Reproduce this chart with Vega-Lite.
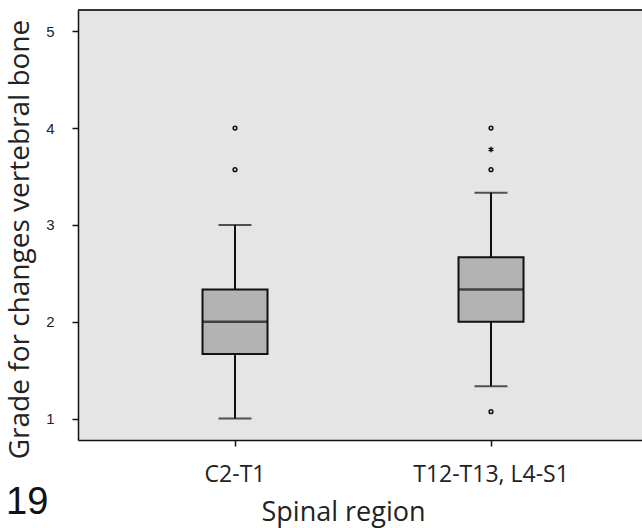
{
  "$schema": "https://vega.github.io/schema/vega-lite/v6.json",
  "width": 564,
  "height": 430,
  "autosize": {"type": "none"},
  "padding": {"left": 78, "top": 10, "right": 0, "bottom": 88},
  "background": "white",
  "config": {"view": {"fill": "#e5e5e5", "stroke": null}},
  "title": {
    "text": "19",
    "orient": "bottom",
    "anchor": "start",
    "frame": "bounds",
    "font": "Liberation Sans",
    "fontSize": 38,
    "fontWeight": "normal",
    "color": "#111",
    "offset": -41
  },
  "datasets": {
    "boxes": [
      {"region": "C2-T1", "lower": 1.0, "q1": 1.667, "median": 2.0, "q3": 2.333, "upper": 3.0},
      {"region": "T12-T13, L4-S1", "lower": 1.333, "q1": 2.0, "median": 2.333, "q3": 2.667, "upper": 3.333}
    ],
    "outliers": [
      {"region": "C2-T1", "value": 3.57, "kind": "outlier"},
      {"region": "C2-T1", "value": 4.0, "kind": "outlier"},
      {"region": "T12-T13, L4-S1", "value": 1.07, "kind": "outlier"},
      {"region": "T12-T13, L4-S1", "value": 3.57, "kind": "outlier"},
      {"region": "T12-T13, L4-S1", "value": 4.0, "kind": "outlier"},
      {"region": "T12-T13, L4-S1", "value": 3.78, "kind": "extreme"}
    ]
  },
  "layer": [
    {
      "data": {"values": [{"edge": 5.22}]},
      "mark": {"type": "rule", "color": "#333", "strokeWidth": 2},
      "encoding": {
        "y": {"field": "edge", "type": "quantitative", "scale": {"domain": [0.778, 5.22], "nice": false, "zero": false}}
      }
    },
    {
      "data": {"name": "boxes"},
      "mark": {"type": "rule", "color": "#111", "strokeWidth": 2},
      "encoding": {
        "x": {"field": "region", "type": "nominal", "sort": ["C2-T1", "T12-T13, L4-S1"],
              "scale": {"paddingInner": 0, "paddingOuter": 0.1016, "align": 0.558},
              "axis": {"title": "Spinal region", "labelAngle": 0, "domainColor": "#111", "domainWidth": 1.5,
                       "tickColor": "#111", "tickWidth": 1.5, "tickSize": 6,
                       "labelFont": "Open Sans", "labelFontSize": 23, "labelColor": "#222", "labelPadding": 17,
                       "titleFont": "Open Sans", "titleFontSize": 27, "titleFontWeight": "normal", "titleColor": "#222",
                       "titleX": 265, "titleY": 80, "titleBaseline": "alphabetic", "titleAlign": "center"}},
        "y": {"field": "lower", "type": "quantitative",
              "axis": {"title": "Grade for changes vertebral bone", "values": [1, 2, 3, 4, 5], "format": "d", "grid": false,
                       "domainColor": "#111", "domainWidth": 1.5, "tickColor": "#111", "tickWidth": 1.5, "tickSize": 6,
                       "labelFont": "Liberation Sans", "labelFontSize": 15, "labelColor": "#222", "labelPadding": 18,
                       "titleFont": "Open Sans", "titleFontSize": 28, "titleFontWeight": "normal", "titleColor": "#222",
                       "titleAngle": -90, "titleX": -50, "titleY": 229, "titleBaseline": "alphabetic", "titleAlign": "center"}},
        "y2": {"field": "upper"}
      }
    },
    {
      "data": {"name": "boxes"},
      "mark": {"type": "bar", "fill": "#b3b3b3", "stroke": "#111", "strokeWidth": 2, "size": 65},
      "encoding": {
        "x": {"field": "region", "type": "nominal", "sort": ["C2-T1", "T12-T13, L4-S1"]},
        "y": {"field": "q1", "type": "quantitative"},
        "y2": {"field": "q3"}
      }
    },
    {
      "data": {"name": "boxes"},
      "mark": {"type": "tick", "color": "#111", "size": 65, "thickness": 2.5},
      "encoding": {
        "x": {"field": "region", "type": "nominal", "sort": ["C2-T1", "T12-T13, L4-S1"]},
        "y": {"field": "median", "type": "quantitative"}
      }
    },
    {
      "data": {"name": "boxes"},
      "mark": {"type": "tick", "color": "#111", "size": 33, "thickness": 2},
      "encoding": {
        "x": {"field": "region", "type": "nominal", "sort": ["C2-T1", "T12-T13, L4-S1"]},
        "y": {"field": "lower", "type": "quantitative"}
      }
    },
    {
      "data": {"name": "boxes"},
      "mark": {"type": "tick", "color": "#111", "size": 33, "thickness": 2},
      "encoding": {
        "x": {"field": "region", "type": "nominal", "sort": ["C2-T1", "T12-T13, L4-S1"]},
        "y": {"field": "upper", "type": "quantitative"}
      }
    },
    {
      "data": {"name": "outliers"},
      "transform": [{"filter": "datum.kind == 'outlier'"}],
      "mark": {"type": "point", "shape": "circle", "filled": false, "color": "#111", "strokeWidth": 1.5, "size": 14, "opacity": 1},
      "encoding": {
        "x": {"field": "region", "type": "nominal", "sort": ["C2-T1", "T12-T13, L4-S1"]},
        "y": {"field": "value", "type": "quantitative"}
      }
    },
    {
      "data": {"name": "outliers"},
      "transform": [{"filter": "datum.kind == 'extreme'"}],
      "mark": {"type": "point", "shape": "M0,-1L0,1M-0.87,-0.5L0.87,0.5M-0.87,0.5L0.87,-0.5", "filled": false, "color": "#111", "strokeWidth": 1.5, "size": 30, "opacity": 1},
      "encoding": {
        "x": {"field": "region", "type": "nominal", "sort": ["C2-T1", "T12-T13, L4-S1"]},
        "y": {"field": "value", "type": "quantitative"}
      }
    }
  ]
}
